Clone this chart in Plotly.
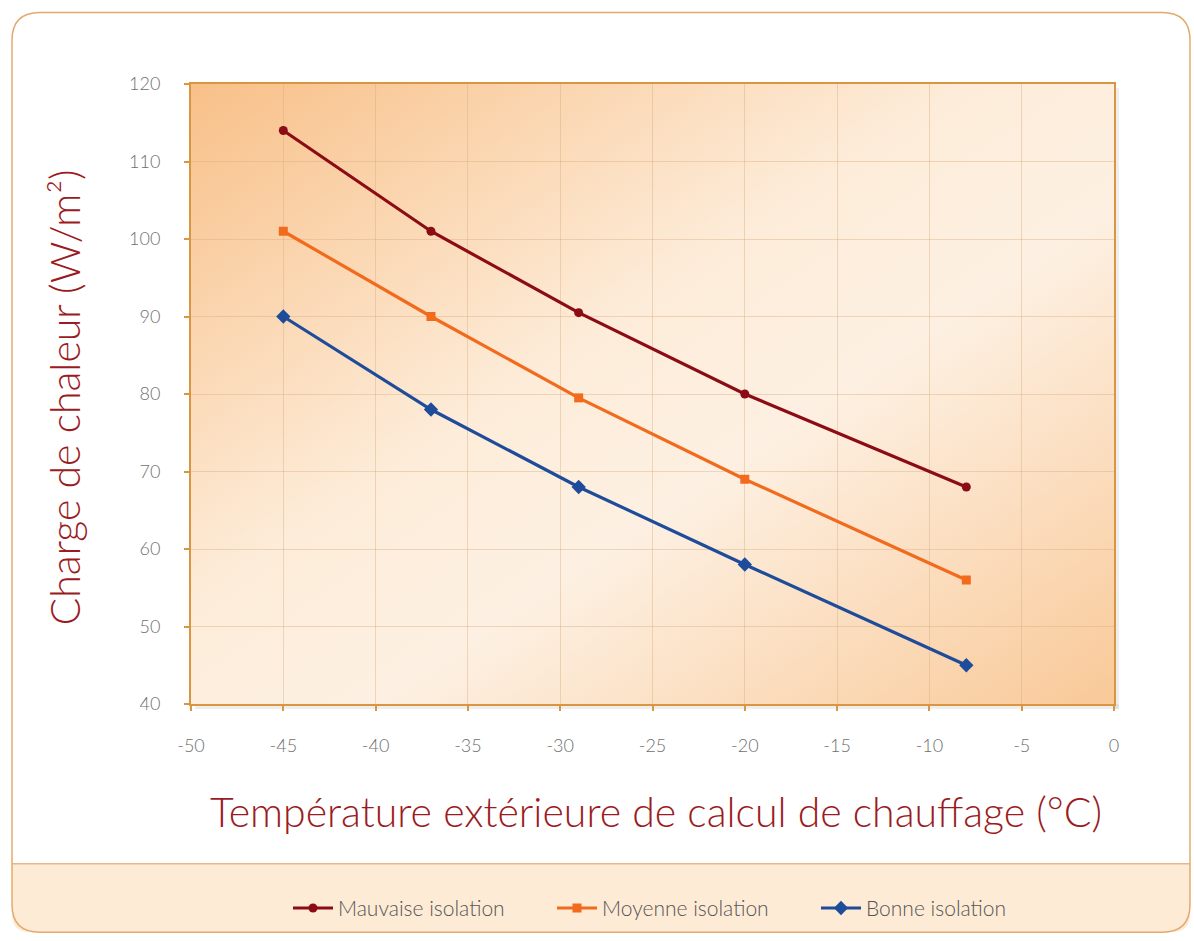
import plotly.graph_objects as go
import urllib.parse

# ---- data ----
temps = [-45, -37, -29, -20, -8]
mauvaise = [114, 101, 90.5, 80, 68]
moyenne = [101, 90, 79.5, 69, 56]
bonne = [90, 78, 68, 58, 45]
series_names = ["Mauvaise isolation", "Moyenne isolation", "Bonne isolation"]
x_ticks = [-50, -45, -40, -35, -30, -25, -20, -15, -10, -5, 0]
x_tick_text = ["-50", "-45", "-40", "-35", "-30", "-25", "-20", "-15", "-10", "-5", "0"]
y_ticks = [40, 50, 60, 70, 80, 90, 100, 110, 120]

W, H = 1194, 941
L, R, T, B = 191, 1114, 84, 709

def px(x):
    return (x - L) / (R - L)

def py(y):
    return (B - y) / (B - T)

fig = go.Figure()

styles = [
    dict(color="#8c0c15", symbol="circle", size=9),
    dict(color="#f26b1d", symbol="square", size=9),
    dict(color="#1e4c9a", symbol="diamond", size=11),
]
for name, vals, st in zip(series_names, [mauvaise, moyenne, bonne], styles):
    fig.add_trace(go.Scatter(
        x=temps, y=vals, name=name, mode="lines+markers",
        line=dict(color=st["color"], width=3.2),
        marker=dict(color=st["color"], symbol=st["symbol"], size=st["size"]),
    ))

# gradient background for plot area (svg data uri)
svg = ('<svg xmlns="http://www.w3.org/2000/svg" width="923" height="625" preserveAspectRatio="none">'
       '<defs><linearGradient id="g" x1="0" y1="0" x2="1" y2="1">'
       '<stop offset="0" stop-color="#f8c088"/>'
       '<stop offset="0.42" stop-color="#fdecd9"/>'
       '<stop offset="0.6" stop-color="#fdf0e2"/>'
       '<stop offset="1" stop-color="#f9c998"/>'
       '</linearGradient></defs>'
       '<rect width="923" height="625" fill="url(#g)"/></svg>')
src = "data:image/svg+xml;charset=utf-8," + urllib.parse.quote(svg)
fig.add_layout_image(dict(source=src, xref="paper", yref="paper", x=0, y=1,
                          sizex=1, sizey=1, sizing="stretch", layer="below",
                          xanchor="left", yanchor="top"))

# card outline with rounded corners and legend band
def rr_path(x0, y0, x1, y1, r, top=True, bottom=True):
    X = lambda v: px(v)
    Y = lambda v: py(v)
    p = []
    if top:
        p.append(f"M {X(x0)},{Y(y0 + r)} Q {X(x0)},{Y(y0)} {X(x0 + r)},{Y(y0)}")
        p.append(f"L {X(x1 - r)},{Y(y0)} Q {X(x1)},{Y(y0)} {X(x1)},{Y(y0 + r)}")
    else:
        p.append(f"M {X(x0)},{Y(y0)} L {X(x1)},{Y(y0)}")
    if bottom:
        p.append(f"L {X(x1)},{Y(y1 - r)} Q {X(x1)},{Y(y1)} {X(x1 - r)},{Y(y1)}")
        p.append(f"L {X(x0 + r)},{Y(y1)} Q {X(x0)},{Y(y1)} {X(x0)},{Y(y1 - r)}")
    else:
        p.append(f"L {X(x1)},{Y(y1)} L {X(x0)},{Y(y1)}")
    p.append("Z")
    return " ".join(p)

shapes = [
    dict(type="path", xref="paper", yref="paper",
         path=rr_path(12, 870, 1190, 939, 18, top=False, bottom=True),
         fillcolor="#fdebd6", line=dict(width=0), layer="below"),
    dict(type="line", xref="paper", yref="paper", x0=px(12), x1=px(1190),
         y0=py(870), y1=py(870), line=dict(color="#e6b887", width=1.5)),
    dict(type="path", xref="paper", yref="paper",
         path=rr_path(12, 12, 1190, 939, 28),
         fillcolor="rgba(0,0,0,0)", line=dict(color="#e3aa6e", width=1.5)),
    # plot area shadow
    dict(type="rect", xref="paper", yref="paper", x0=px(R), x1=px(R + 5),
         y0=py(B + 5), y1=py(T + 4), fillcolor="rgba(160,160,160,0.18)",
         line=dict(width=0), layer="below"),
    dict(type="rect", xref="paper", yref="paper", x0=px(L + 4), x1=px(R + 5),
         y0=py(B + 5), y1=py(B), fillcolor="rgba(160,160,160,0.18)",
         line=dict(width=0), layer="below"),
]

title_font = dict(family="Lato", size=41, color="#9b1b22", weight=300)
annotations = [
    dict(text="Température extérieure de calcul de chauffage (°C)",
         xref="paper", yref="paper", x=px(656), y=py(817), showarrow=False,
         xanchor="center", yanchor="middle", font=title_font),
    dict(text="Charge de chaleur (W/m²)",
         xref="paper", yref="paper", x=px(64), y=py(400), showarrow=False,
         xanchor="center", yanchor="middle", textangle=-90, font=title_font),
]

axis_common = dict(
    showline=True, linecolor="#d9953f", linewidth=2,
    ticks="outside", tickcolor="#d9953f", ticklen=5, tickwidth=2,
    showgrid=True, gridcolor="rgba(215,170,125,0.4)", gridwidth=1,
    zeroline=False, mirror=True,
    tickfont=dict(family="Lato", size=18, color="#707070", weight=300),
)

fig.update_layout(
    width=W, height=H,
    margin=dict(l=L, r=W - R, t=T, b=H - B),
    paper_bgcolor="white",
    plot_bgcolor="rgba(0,0,0,0)",
    xaxis=dict(range=[-50, 0], tickvals=x_ticks, ticktext=x_tick_text,
               ticklabelstandoff=19, **axis_common),
    yaxis=dict(range=[40, 120], tickvals=y_ticks, ticklabelstandoff=20, **axis_common),
    showlegend=True,
    legend=dict(orientation="h", xref="paper", yref="paper",
                x=px(684), y=py(915), xanchor="center", yanchor="middle",
                bgcolor="rgba(0,0,0,0)",
                font=dict(family="Lato", size=21, color="#555555", weight=300),
                itemwidth=40, entrywidth=209, entrywidthmode="pixels"),
    shapes=shapes,
    annotations=annotations,
)

fig.write_html("out.html", post_script="document.body.style.margin='0';",
               config={"displayModeBar": False})
